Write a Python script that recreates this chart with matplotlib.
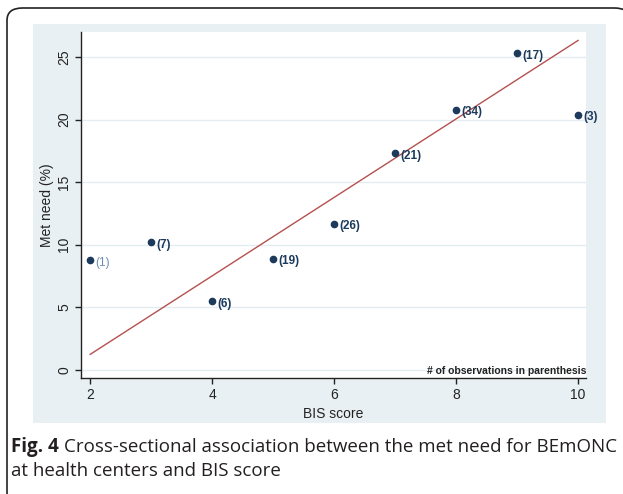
import numpy as np
import matplotlib
matplotlib.use("Agg")
import matplotlib.pyplot as plt
from matplotlib.patches import FancyBboxPatch, Rectangle

# data
bis_score = [2, 3, 4, 5, 6, 7, 8, 9, 10]
met_need = [8.8, 10.2, 5.5, 8.9, 11.7, 17.3, 20.8, 25.3, 20.4]
n_obs = [1, 7, 6, 19, 26, 21, 34, 17, 3]
x_ticks = [2, 4, 6, 8, 10]
y_ticks = [0, 5, 10, 15, 20, 25]

W, H = 623, 494
BG = "#e9f0f3"
NAVY = "#1b3a5c"

plt.rcParams["font.family"] = ["Liberation Sans", "DejaVu Sans"]

fig = plt.figure(figsize=(W / 100, H / 100), dpi=100)


def fx(px):
    return px / W


def fy(py):
    return 1 - py / H


# outer rounded frame (runs off the right/bottom edges)
fig.patches.append(FancyBboxPatch(
    (fx(7), fy(505)), fx(630) - fx(7), fy(8) - fy(505),
    boxstyle="round,pad=0,rounding_size=0.025", transform=fig.transFigure,
    facecolor="white", edgecolor="#222222", lw=1.2, zorder=-2))
# stata graph region
fig.patches.append(Rectangle(
    (fx(33), fy(423)), fx(606) - fx(33), fy(24) - fy(423),
    transform=fig.transFigure, facecolor=BG, edgecolor="none", zorder=-1))

ax = fig.add_axes([fx(81), fy(378), fx(586) - fx(81), fy(32) - fy(378)])
ax.set_facecolor("white")
ax.set_xlim(1.85, 10.13)
ax.set_ylim(-0.64, 27.0)

for y in y_ticks:
    ax.axhline(y, color="#e3ecf1", lw=1, zorder=1)

# weighted linear fit
w = np.sqrt(np.array(n_obs, dtype=float))
slope, icpt = np.polyfit(bis_score, met_need, 1, w=w)
xs = np.array([bis_score[0], bis_score[-1]])
ax.plot(xs, slope * xs + icpt, color="#b4504f", lw=1, zorder=2)

ax.plot(bis_score, met_need, "o", color=NAVY, ms=4.5, zorder=3)
for x, y, n in zip(bis_score, met_need, n_obs):
    light = n == 1
    ax.annotate(f"({n})", (x, y), xytext=(4, -2), textcoords="offset points",
                ha="left", va="center", fontsize=8.5,
                color="#6d8db0" if light else NAVY,
                fontweight="normal" if light else "bold", zorder=4)

ax.text(1.0, 0.005, "# of observations in parenthesis", transform=ax.transAxes,
        ha="right", va="bottom", fontsize=7.5, color="#222222", fontweight="bold")

for s in ["top", "right"]:
    ax.spines[s].set_visible(False)
for s in ["left", "bottom"]:
    ax.spines[s].set_color("#222222")
    ax.spines[s].set_linewidth(1)

ax.set_xticks(x_ticks)
ax.set_yticks(y_ticks)
ax.tick_params(colors="#222222", labelsize=10, length=4, width=1, pad=3)
plt.setp(ax.get_yticklabels(), rotation=90, va="center")
ax.set_xlabel("BIS score", fontsize=10, color="#222222", labelpad=4)
ax.set_ylabel("Met need (%)", fontsize=10, color="#222222", labelpad=2)

cap_font = ["Open Sans", "DejaVu Sans"]
fig.text(fx(11), fy(447), "Fig. 4", family=cap_font, fontweight="bold",
         fontsize=13.5, color="#231f20", va="center", ha="left")
fig.text(fx(64), fy(447), "Cross-sectional association between the met need for BEmONC",
         family=cap_font, fontsize=13.5, color="#231f20", va="center", ha="left")
fig.text(fx(11), fy(471), "at health centers and BIS score",
         family=cap_font, fontsize=13.5, color="#231f20", va="center", ha="left")

fig.savefig("out.png", dpi=100)
